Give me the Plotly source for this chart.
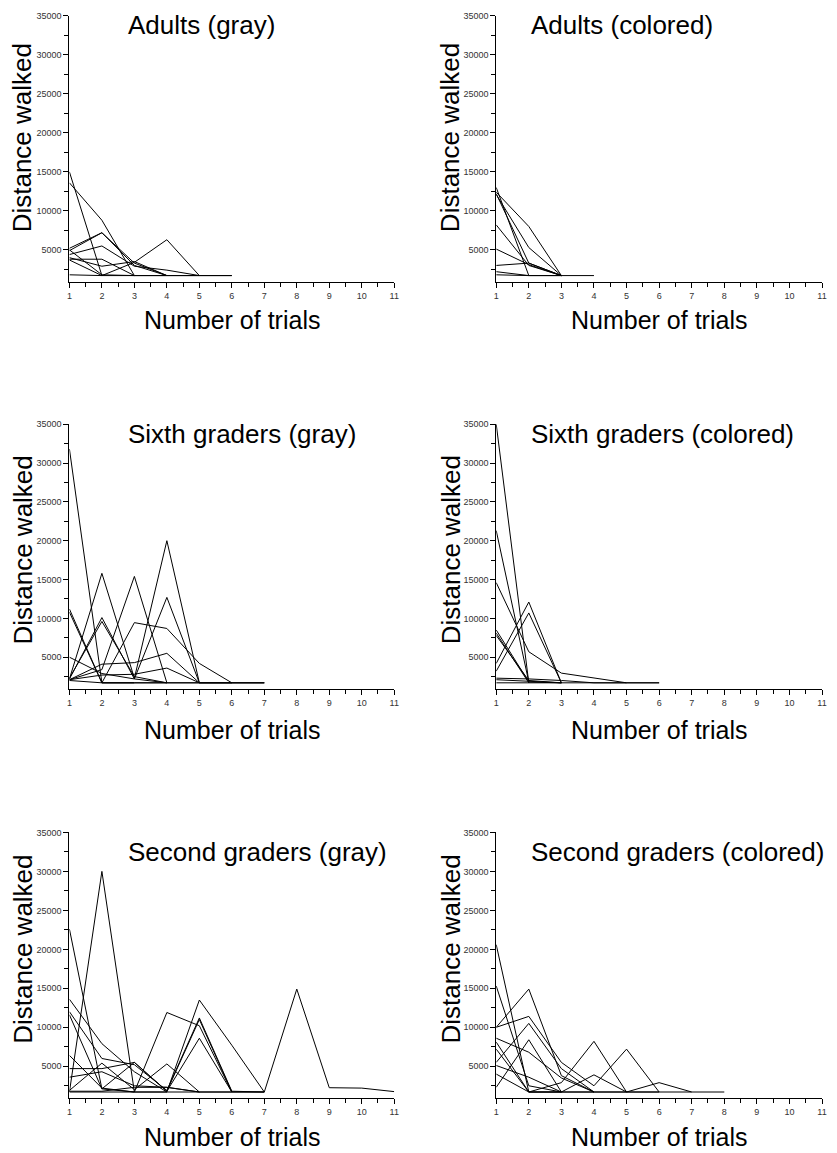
import plotly.graph_objects as go

# ---------------- data (distance walked per trial, one list per participant) ----------------
trials = [1, 2, 3, 4, 5, 6, 7, 8, 9, 10, 11]
y_ticks = [5000, 10000, 15000, 20000, 25000, 30000, 35000]
y_tick_labels = ["5000", "10000", "15000", "20000", "25000", "30000", "35000"]

panel_titles = ["Adults (gray)", "Adults (colored)",
                "Sixth graders (gray)", "Sixth graders (colored)",
                "Second graders (gray)", "Second graders (colored)"]

adults_gray = [
    [15000, 1700],
    [13600, 8800, 1700],
    [5200, 7200, 3300, 1700, 1700],
    [4900, 7200, 3000, 1700],
    [4400, 5500, 2900, 2400, 1700],
    [3800, 3800, 1700, 1700],
    [4000, 2900, 3500, 1700],
    [3700, 1700, 3400, 6300, 1700, 1700],
    [1800, 1700, 1700, 1700, 1700, 1700],
    [5000, 1800, 1700],
]

adults_colored = [
    [13000, 1700],
    [12400, 8000, 1700],
    [12100, 5300, 1700],
    [12200, 3300, 1700],
    [8200, 3000, 1700],
    [5100, 3100, 1700],
    [3000, 3300, 1700],
    [2200, 1700, 1700],
    [1800, 1700, 1700, 1700],
]

sixth_gray = [
    [31800, 1700, 1700, 1700],
    [2200, 15800, 2300, 20000, 1700],
    [2100, 3400, 15400, 1700, 1700, 1700, 1700],
    [2200, 10100, 2200, 12700, 1700],
    [2300, 9600, 2500, 1700],
    [11200, 1700, 9450, 8700, 4200, 1700],
    [10800, 1700, 1700],
    [5000, 2900, 2200, 1700],
    [2100, 4100, 4300, 5500, 1700, 1700],
    [2100, 2700, 2800, 3600, 1700, 1700, 1700],
    [2000, 1700, 1700, 1700, 1700, 1700, 1700],
]

sixth_colored = [
    [35000, 1700],
    [21300, 1800],
    [14600, 5700, 2950, 2300, 1700],
    [8500, 1800, 1700],
    [8100, 1700],
    [7800, 2000, 1700],
    [4200, 12100, 1700],
    [3200, 10700, 1700],
    [2300, 2200, 2000, 1700, 1700, 1700],
    [2100, 1900, 1700],
    [1700, 1700, 1700, 1700, 1700, 1700],
]

second_gray = [
    [1700, 30000, 1700, 1700, 13500, 7700, 1700, 14900, 2250, 2200, 1750],
    [22600, 2100, 1700],
    [13600, 7900, 4300, 1700],
    [12000, 6000, 5200, 1900, 11200, 1800, 1700],
    [11600, 2100, 5500, 1800, 11000, 1700],
    [6400, 2200, 1700, 11900, 10200, 1700],
    [4700, 4700, 5500, 1800, 8600, 1700],
    [3600, 4300, 2500, 2300, 1700],
    [1900, 5400, 2000, 5300, 1700],
    [1800, 1800, 2300, 2300, 1700, 1700, 1700],
    [1700, 1700, 1700, 1700, 1700, 1700, 1700],
]

second_colored = [
    [20600, 1700, 1700],
    [15300, 2500, 1700],
    [10000, 14900, 3800, 1700],
    [10000, 11400, 5500, 2500, 7200, 1700],
    [8600, 6800, 3500, 1700, 1700, 2900, 1700, 1700],
    [8100, 1700, 2900, 8200, 1700, 1700],
    [7200, 1700, 1700, 3900, 1700],
    [5500, 10500, 4700, 1700],
    [5100, 3600, 1700, 1700],
    [4000, 1700, 1700],
    [2300, 8400, 1700, 1700, 1700, 1700, 1700],
]

panels = [adults_gray, adults_colored, sixth_gray, sixth_colored, second_gray, second_colored]

# ---------------- layout geometry (window pixels) ----------------
OFF = 8                      # default page body margin
W, H = 837 - 2 * OFF, 1153 - OFF
col_x = [(67, 395), (498, 827)]
row_y = [(11, 278), (421, 687), (831, 1098)]
title_left = [124, 531]
title_y = [20, 431, 851]
ytitle_x = [20, 452]
ytitle_y = [133, 547, 948]
xtitle_y = [316, 728, 1137]


def px(xp):
    return (xp - OFF) / W


def py(yp):
    return 1 - (yp - OFF) / H


FONT = "Liberation Sans, Arial, Helvetica, sans-serif"

fig = go.Figure()
layout = dict(
    width=W, height=H,
    margin=dict(l=0, r=0, t=0, b=0),
    paper_bgcolor="white", plot_bgcolor="white",
    showlegend=False,
    font=dict(family=FONT, color="black"),
)
annotations = []

for i, series in enumerate(panels):
    r, c = divmod(i, 2)
    n = i + 1
    xa = "xaxis" if n == 1 else f"xaxis{n}"
    ya = "yaxis" if n == 1 else f"yaxis{n}"
    xref = "x" if n == 1 else f"x{n}"
    yref = "y" if n == 1 else f"y{n}"
    x0, x1 = col_x[c]
    y0, y1 = row_y[r]
    for s in series:
        fig.add_trace(go.Scatter(
            x=trials[:len(s)], y=s, mode="lines",
            line=dict(color="black", width=1),
            xaxis=xref, yaxis=yref, hoverinfo="skip"))
    layout[xa] = dict(
        domain=[px(x0), px(x1)], anchor=yref,
        range=[1, 11], tickvals=trials, ticktext=[str(t) for t in trials],
        showline=True, linecolor="black", linewidth=1,
        ticks="outside", ticklen=5, tickcolor="black", tickwidth=1,
        minor=dict(dtick=0.5, tick0=1, ticks="outside", ticklen=4, tickcolor="black", tickwidth=1),
        showgrid=False, zeroline=False,
        tickfont=dict(size=9, color="#333333", family=FONT),
    )
    layout[ya] = dict(
        domain=[py(y1), py(y0)], anchor=xref,
        range=[900, 35000], tickvals=y_ticks, ticktext=y_tick_labels,
        showline=True, linecolor="black", linewidth=1,
        ticks="outside", ticklen=5, tickcolor="black", tickwidth=1,
        minor=dict(dtick=2500, tick0=0, ticks="outside", ticklen=4, tickcolor="black", tickwidth=1),
        showgrid=False, zeroline=False,
        tickfont=dict(size=9, color="#333333", family=FONT),
    )
    # panel title
    annotations.append(dict(
        text=panel_titles[i], xref="paper", yref="paper",
        x=px(title_left[c]), y=py(title_y[r]),
        xanchor="left", yanchor="middle", showarrow=False,
        font=dict(size=26, family=FONT, color="black")))
    # y axis title
    annotations.append(dict(
        text="Distance walked", xref="paper", yref="paper",
        x=px(ytitle_x[c]), y=py(ytitle_y[r]), textangle=-90,
        xanchor="center", yanchor="middle", showarrow=False,
        font=dict(size=26, family=FONT, color="black")))
    # x axis title
    annotations.append(dict(
        text="Number of trials", xref="paper", yref="paper",
        x=px((x0 + x1) / 2), y=py(xtitle_y[r]),
        xanchor="center", yanchor="middle", showarrow=False,
        font=dict(size=25, family=FONT, color="black")))

layout["annotations"] = annotations
fig.update_layout(**layout)
fig.write_html("out.html")
